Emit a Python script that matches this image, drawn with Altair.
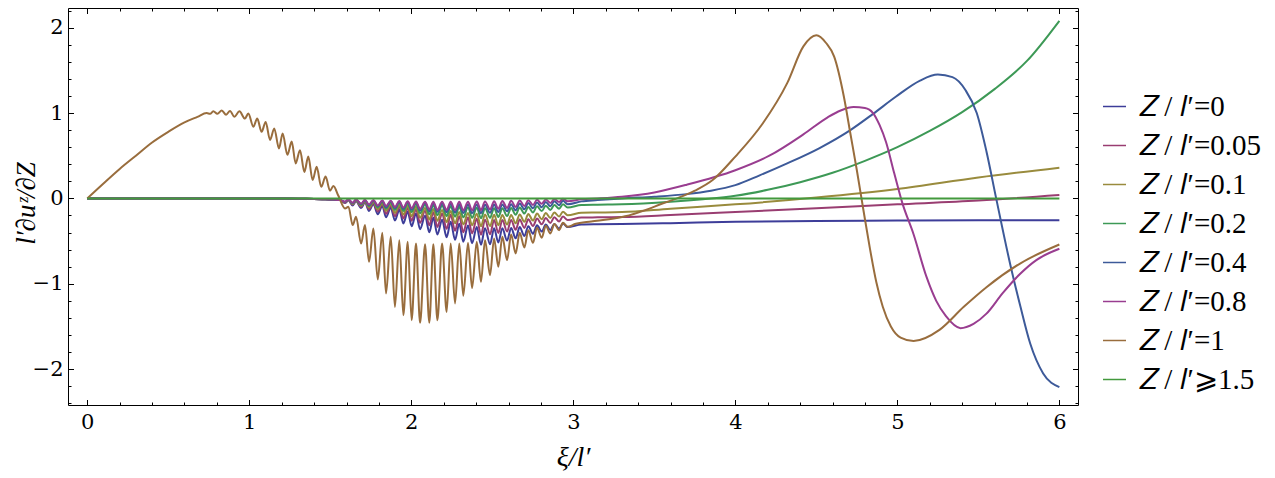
import altair as alt
import pandas as pd

LABELS = ["𝑍 / 𝑙′=0", "𝑍 / 𝑙′=0.05", "𝑍 / 𝑙′=0.1", "𝑍 / 𝑙′=0.2",
          "𝑍 / 𝑙′=0.4", "𝑍 / 𝑙′=0.8", "𝑍 / 𝑙′=1", "𝑍 / 𝑙′⩾1.5"]
COLORS = ["#3d3d99", "#993d71", "#998b3d", "#3d9956",
          "#3d5a99", "#993d90", "#996d3d", "#43993d"]

X_MAJOR = [0, 1, 2, 3, 4, 5, 6]
X_MINOR = [0.2, 0.4, 0.6, 0.8, 1.2, 1.4, 1.6, 1.8, 2.2, 2.4, 2.6, 2.8,
           3.2, 3.4, 3.6, 3.8, 4.2, 4.4, 4.6, 4.8, 5.2, 5.4, 5.6, 5.8]
Y_MAJOR = [-2, -1, 0, 1, 2]
Y_MINOR = [-2.4, -2.2, -1.8, -1.6, -1.4, -1.2, -0.8, -0.6, -0.4, -0.2,
           0.2, 0.4, 0.6, 0.8, 1.2, 1.4, 1.6, 1.8, 2.2]

# shared start of the six small curves
PRE_X = [0.0, 1.2, 1.35, 1.45, 1.52, 1.56]
PRE_Y = [0.0, 0.0, -0.004, -0.009, -0.014, -0.02]

# positions of the oscillation extrema
EXT_X = [1.591, 1.612, 1.638, 1.659, 1.690, 1.714, 1.739, 1.766, 1.793, 1.821,
         1.844, 1.873, 1.899, 1.926, 1.951, 1.978, 2.002, 2.029, 2.054, 2.085,
         2.111, 2.136, 2.161, 2.190, 2.218, 2.243, 2.270, 2.296, 2.321, 2.350,
         2.375, 2.404, 2.430, 2.455, 2.486, 2.511, 2.537, 2.562, 2.591, 2.616,
         2.644, 2.669, 2.698, 2.722, 2.751, 2.776, 2.805, 2.830, 2.858, 2.883,
         2.912, 2.936, 2.965]

Z0_EXT = [-0.054, -0.023, -0.083, -0.032, -0.114, -0.046, -0.147, -0.066, -0.185, -0.089,
          -0.221, -0.109, -0.260, -0.131, -0.293, -0.155, -0.326, -0.178, -0.360, -0.203,
          -0.397, -0.226, -0.424, -0.250, -0.455, -0.275, -0.484, -0.298, -0.507, -0.317,
          -0.525, -0.335, -0.543, -0.350, -0.536, -0.350, -0.516, -0.350, -0.494, -0.346,
          -0.468, -0.336, -0.441, -0.325, -0.414, -0.314, -0.389, -0.306, -0.371, -0.299,
          -0.354, -0.293, -0.336]
Z0_POST_X = [3.05, 3.15, 3.3, 3.6, 4.0, 4.5, 5.0, 5.5, 6.0]
Z0_POST_Y = [-0.305, -0.302, -0.30, -0.29, -0.275, -0.265, -0.26, -0.257, -0.255]

Z005_EXT = [-0.051, -0.021, -0.074, -0.028, -0.100, -0.039, -0.126, -0.053, -0.154, -0.068,
            -0.181, -0.082, -0.210, -0.097, -0.235, -0.113, -0.261, -0.129, -0.287, -0.145,
            -0.315, -0.161, -0.334, -0.177, -0.357, -0.193, -0.379, -0.209, -0.396, -0.223,
            -0.410, -0.238, -0.425, -0.250, -0.419, -0.252, -0.404, -0.254, -0.388, -0.253,
            -0.367, -0.248, -0.346, -0.243, -0.324, -0.237, -0.304, -0.230, -0.287, -0.221,
            -0.271, -0.213, -0.254]
Z005_POST_X = [3.05, 3.15, 3.3, 3.6, 4.0, 4.5, 5.0, 5.5, 6.0]
Z005_POST_Y = [-0.225, -0.222, -0.218, -0.195, -0.16, -0.115, -0.07, -0.025, 0.04]

Z01_EXT = [-0.046, -0.019, -0.065, -0.024, -0.086, -0.033, -0.106, -0.043, -0.127, -0.054,
           -0.147, -0.065, -0.170, -0.076, -0.189, -0.087, -0.209, -0.099, -0.228, -0.112,
           -0.248, -0.123, -0.262, -0.136, -0.278, -0.147, -0.292, -0.159, -0.304, -0.170,
           -0.315, -0.181, -0.326, -0.190, -0.324, -0.192, -0.315, -0.194, -0.307, -0.194,
           -0.292, -0.188, -0.275, -0.183, -0.260, -0.178, -0.244, -0.171, -0.229, -0.164,
           -0.213, -0.156, -0.198]
Z01_POST_X = [3.05, 3.15, 3.3, 3.6, 4.0, 4.5, 5.0, 5.5, 6.0]
Z01_POST_Y = [-0.168, -0.165, -0.16, -0.12, -0.07, 0.01, 0.11, 0.245, 0.36]

Z02_EXT = [-0.043, -0.014, -0.060, -0.017, -0.077, -0.022, -0.091, -0.028, -0.106, -0.035,
           -0.120, -0.042, -0.135, -0.049, -0.148, -0.057, -0.160, -0.065, -0.174, -0.073,
           -0.187, -0.079, -0.196, -0.087, -0.206, -0.092, -0.215, -0.099, -0.222, -0.105,
           -0.228, -0.111, -0.234, -0.115, -0.228, -0.115, -0.218, -0.115, -0.207, -0.113,
           -0.193, -0.106, -0.178, -0.100, -0.164, -0.093, -0.149, -0.085, -0.135, -0.077,
           -0.120, -0.068, -0.107]
Z02_POST_X = [3.05, 3.15, 3.3, 3.6, 3.8, 4.0, 4.2, 4.4, 4.6, 4.8, 5.0, 5.2, 5.4, 5.6, 5.8, 6.0]
Z02_POST_Y = [-0.078, -0.074, -0.07, -0.04, -0.01, 0.03, 0.10, 0.19, 0.30, 0.44, 0.60, 0.79,
              1.01, 1.28, 1.61, 2.08]

Z04_EXT = [-0.041, -0.014, -0.054, -0.017, -0.067, -0.021, -0.079, -0.025, -0.091, -0.029,
           -0.103, -0.033, -0.115, -0.037, -0.124, -0.041, -0.133, -0.045, -0.142, -0.049,
           -0.151, -0.054, -0.156, -0.059, -0.162, -0.064, -0.167, -0.070, -0.171, -0.072,
           -0.173, -0.073, -0.174, -0.075, -0.169, -0.073, -0.160, -0.071, -0.152, -0.068,
           -0.140, -0.061, -0.128, -0.055, -0.116, -0.048, -0.104, -0.041, -0.092, -0.034,
           -0.079, -0.028, -0.068]
Z04_POST_X = [3.05, 3.15, 3.3, 3.5, 3.7, 3.85, 4.0, 4.15, 4.32, 4.52, 4.71, 4.85, 4.99,
              5.14, 5.25, 5.34, 5.42, 5.49, 5.55, 5.61, 5.70, 5.76, 5.82, 5.90, 6.0]
Z04_POST_Y = [-0.035, -0.02, 0.0, 0.02, 0.05, 0.09, 0.155, 0.27, 0.41, 0.59, 0.80, 0.99, 1.19,
              1.38, 1.45, 1.42, 1.27, 1.0, 0.55, 0.0, -0.80, -1.27, -1.70, -2.05, -2.21]

Z08_EXT = [-0.039, -0.012, -0.051, -0.014, -0.063, -0.016, -0.072, -0.020, -0.082, -0.024,
           -0.090, -0.028, -0.100, -0.032, -0.108, -0.034, -0.115, -0.037, -0.123, -0.040,
           -0.130, -0.040, -0.134, -0.040, -0.136, -0.040, -0.138, -0.040, -0.139, -0.039,
           -0.138, -0.037, -0.137, -0.035, -0.130, -0.034, -0.121, -0.031, -0.112, -0.029,
           -0.100, -0.025, -0.088, -0.021, -0.076, -0.017, -0.064, -0.012, -0.054, -0.007,
           -0.043, -0.003, -0.034]
Z08_POST_X = [3.05, 3.15, 3.3, 3.5, 3.7, 4.0, 4.21, 4.42, 4.57, 4.65, 4.73, 4.80, 4.85, 4.89,
              4.93, 4.98, 5.03, 5.10, 5.18, 5.24, 5.30, 5.39, 5.47, 5.55, 5.65, 5.76, 5.86, 6.0]
Z08_POST_Y = [-0.01, 0.0, 0.02, 0.07, 0.16, 0.33, 0.50, 0.75, 0.95, 1.03, 1.07, 1.06, 1.0, 0.86,
              0.66, 0.30, -0.05, -0.42, -0.92, -1.20, -1.38, -1.52, -1.47, -1.35, -1.11, -0.88,
              -0.72, -0.59]

Z1_PRE_X = [0.0, 0.1, 0.2, 0.3, 0.4, 0.5, 0.6, 0.68, 0.737, 0.758, 0.778, 0.803, 0.830, 0.857,
            0.881, 0.908, 0.939, 0.973, 0.994, 1.025, 1.049, 1.076, 1.101, 1.128, 1.154, 1.183,
            1.206, 1.235, 1.262, 1.286, 1.313, 1.340, 1.364, 1.391, 1.416, 1.444, 1.471, 1.498,
            1.519, 1.550]
Z1_PRE_Y = [0.0, 0.175, 0.345, 0.50, 0.655, 0.78, 0.89, 0.955, 1.000, 0.990, 1.020, 0.990, 1.030,
            0.980, 1.025, 0.955, 1.020, 0.935, 0.995, 0.840, 0.935, 0.780, 0.895, 0.685, 0.820,
            0.585, 0.760, 0.510, 0.665, 0.410, 0.565, 0.310, 0.490, 0.215, 0.370, 0.135, 0.255,
            0.090, 0.145, 0.030]
Z1_EXT = [-0.117, -0.098, -0.313, -0.215, -0.528, -0.313, -0.743, -0.352, -0.950, -0.403,
          -1.114, -0.450, -1.271, -0.489, -1.368, -0.509, -1.427, -0.528, -1.458, -0.536,
          -1.458, -0.536, -1.427, -0.528, -1.330, -0.528, -1.230, -0.528, -1.140, -0.520,
          -1.050, -0.509, -0.977, -0.489, -0.899, -0.469, -0.801, -0.450, -0.723, -0.422,
          -0.645, -0.403, -0.575, -0.372, -0.520, -0.344, -0.461, -0.321, -0.411, -0.301,
          -0.372, -0.286, -0.333]
Z1_POST_X = [3.01, 3.11, 3.22, 3.32, 3.44, 3.55, 3.64, 3.75, 3.86, 4.0, 4.17, 4.32, 4.42, 4.50,
             4.56, 4.61, 4.67, 4.71, 4.75, 4.79, 4.83, 4.87, 4.91, 4.96, 5.02, 5.10, 5.26, 5.41,
             5.55, 5.76, 6.0]
Z1_POST_Y = [-0.30, -0.27, -0.245, -0.21, -0.14, -0.06, 0.0, 0.09, 0.215, 0.49, 0.88, 1.35, 1.78,
             1.91, 1.82, 1.66, 1.19, 0.76, 0.33, -0.13, -0.58, -0.98, -1.27, -1.50, -1.63, -1.67,
             -1.54, -1.27, -1.04, -0.76, -0.54]

Z15_X = [0.0, 6.0]
Z15_Y = [0.0, 0.0]

SERIES = [
    (LABELS[0], PRE_X + EXT_X + Z0_POST_X, PRE_Y + Z0_EXT + Z0_POST_Y),
    (LABELS[1], PRE_X + EXT_X + Z005_POST_X, PRE_Y + Z005_EXT + Z005_POST_Y),
    (LABELS[2], PRE_X + EXT_X + Z01_POST_X, PRE_Y + Z01_EXT + Z01_POST_Y),
    (LABELS[3], PRE_X + EXT_X + Z02_POST_X, PRE_Y + Z02_EXT + Z02_POST_Y),
    (LABELS[4], PRE_X + EXT_X + Z04_POST_X, PRE_Y + Z04_EXT + Z04_POST_Y),
    (LABELS[5], PRE_X + EXT_X + Z08_POST_X, PRE_Y + Z08_EXT + Z08_POST_Y),
    (LABELS[6], Z1_PRE_X + EXT_X + Z1_POST_X, Z1_PRE_Y + Z1_EXT + Z1_POST_Y),
    (LABELS[7], Z15_X, Z15_Y),
]

W, H = 1010, 397
FONT_TICK = "DejaVu Serif"
FONT_LEG = "Liberation Serif"
FONT_TITLE = "Times New Roman"

xs = alt.Scale(domain=[-0.119, 6.115], nice=False, zero=False)
ys = alt.Scale(domain=[-2.42, 2.23], nice=False, zero=False)
cs = alt.Scale(domain=LABELS, range=COLORS)
leg = alt.Legend(title=None, orient="none", legendX=1032, legendY=84,
                 symbolType="stroke", symbolSize=529, symbolStrokeWidth=1.5,
                 labelFont=FONT_LEG, labelFontSize=29, labelColor="black",
                 labelOffset=10, rowPadding=9, padding=0, labelLimit=300)

layers = []
for label, xv, yv in SERIES:
    df = pd.DataFrame({"x": xv, "y": yv, "series": label})
    layers.append(
        alt.Chart(df).mark_line(strokeWidth=2, interpolate="monotone").encode(
            x=alt.X("x:Q", scale=xs, axis=None),
            y=alt.Y("y:Q", scale=ys, axis=None),
            color=alt.Color("series:N", scale=cs, legend=leg),
        )
    )

dummy = pd.DataFrame({"x": [0.0], "y": [0.0]})


def axis_layer(xaxis, yaxis):
    return alt.Chart(dummy).mark_point(opacity=0, size=1).encode(
        x=alt.X("x:Q", scale=xs, axis=xaxis),
        y=alt.Y("y:Q", scale=ys, axis=yaxis),
    )


def tick_axis(orient, values, size, offset):
    return alt.Axis(orient=orient, values=values, offset=offset, ticks=True,
                    tickSize=size, tickColor="black", tickWidth=1,
                    labels=False, domain=False, grid=False, title=None)


x_main = alt.Axis(orient="bottom", values=X_MAJOR, format="d", ticks=False, tickSize=0,
                  domain=False, grid=False, labelFont=FONT_TICK, labelFontSize=21,
                  labelColor="black", labelPadding=6, labelFlush=False,
                  title="ξ/l′", titleFont=FONT_TITLE, titleFontSize=28, titleFontStyle="italic",
                  titleFontWeight="normal", titleColor="black", titleX=W / 2, titleY=60,
                  titleBaseline="alphabetic", titleAlign="center")
y_main = alt.Axis(orient="left", values=Y_MAJOR, format="d", ticks=False, tickSize=0,
                  domain=False, grid=False, labelFont=FONT_TICK, labelFontSize=21,
                  labelColor="black", labelPadding=5, labelFlush=False,
                  title="l′∂uᶻ/∂Z", titleFont=FONT_TITLE, titleFontSize=27, titleFontStyle="italic",
                  titleFontWeight="normal", titleColor="black", titleX=-34, titleY=195,
                  titleAngle=270, titleBaseline="alphabetic", titleAlign="center")

layers.append(axis_layer(x_main, y_main))
layers.append(axis_layer(tick_axis("top", X_MAJOR, 5.5, -H), tick_axis("right", Y_MAJOR, 5.5, -W)))
layers.append(axis_layer(tick_axis("top", X_MINOR, 3, -H), tick_axis("right", Y_MINOR, 3, -W)))
layers.append(axis_layer(tick_axis("bottom", X_MAJOR, 5.5, -H), tick_axis("left", Y_MAJOR, 5.5, -W)))
layers.append(axis_layer(tick_axis("bottom", X_MINOR, 3, -H), tick_axis("left", Y_MINOR, 3, -W)))

chart = alt.layer(*layers).properties(
    width=W, height=H,
    padding={"left": 60, "top": 0, "right": 189, "bottom": 73},
    autosize=alt.AutoSizeParams(type="none"),
).configure_view(stroke="black", strokeWidth=1)

chart.save("out.html", embed_options={"renderer": "svg", "actions": False})
